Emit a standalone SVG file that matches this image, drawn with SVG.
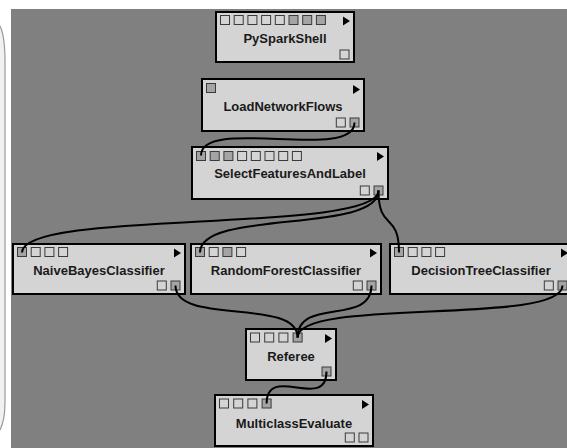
<svg xmlns="http://www.w3.org/2000/svg" width="567" height="448" viewBox="0 0 567 448">
<style>
.box{fill:#d4d4d4;stroke:#000;stroke-width:2}
.p{fill:#d4d4d4;stroke:#3a3a3a;stroke-width:1}
.pd{fill:#a4a4a4;stroke:#3a3a3a;stroke-width:1}
.tri{fill:#000}
.lbl{font-family:"Liberation Sans",Arial,sans-serif;font-weight:bold;font-size:13px;fill:#1a1a1a;text-anchor:middle}
.wire{fill:none;stroke:#000;stroke-width:2}
</style>
<rect x="0" y="0" width="567" height="448" fill="#ffffff"/>
<path d="M0,26 Q5,36 5,62 L5,402 Q5,420 0,430 Z" fill="#f1f1f1" stroke="none"/>
<path d="M0,26 Q5,36 5,62 L5,402 Q5,420 0,430" fill="none" stroke="#9a9a9a" stroke-width="1.2"/>
<rect x="11" y="9" width="556" height="439" fill="#808080"/>

<g id="PySparkShell">
<rect class="box" x="216" y="12" width="138" height="50"/>
<rect class="p" x="220.5" y="15.5" width="9" height="9"/>
<rect class="p" x="234.2" y="15.5" width="9" height="9"/>
<rect class="p" x="247.9" y="15.5" width="9" height="9"/>
<rect class="p" x="261.6" y="15.5" width="9" height="9"/>
<rect class="p" x="275.3" y="15.5" width="9" height="9"/>
<rect class="pd" x="289" y="15.5" width="9" height="9"/>
<rect class="pd" x="302.7" y="15.5" width="9" height="9"/>
<rect class="pd" x="316.4" y="15.5" width="9" height="9"/>
<polygon class="tri" points="343,16.5 343,25.5 350,21"/>
<rect class="p" x="340" y="50" width="9" height="9"/>
<text class="lbl" x="285" y="43">PySparkShell</text>
</g>

<g id="LoadNetworkFlows">
<rect class="box" x="202" y="79" width="162" height="52"/>
<rect class="pd" x="206.5" y="83.5" width="9" height="9"/>
<polygon class="tri" points="353,85 353,94 360,89.5"/>
<rect class="p" x="336.3" y="118" width="9" height="9"/>
<rect class="pd" x="350" y="118" width="9" height="9"/>
<text class="lbl" x="283" y="111">LoadNetworkFlows</text>
</g>

<g id="SelectFeaturesAndLabel">
<rect class="box" x="192" y="147" width="196" height="52"/>
<rect class="pd" x="196.5" y="151.5" width="9" height="9"/>
<rect class="pd" x="210.2" y="151.5" width="9" height="9"/>
<rect class="pd" x="223.9" y="151.5" width="9" height="9"/>
<rect class="p" x="237.6" y="151.5" width="9" height="9"/>
<rect class="p" x="251.3" y="151.5" width="9" height="9"/>
<rect class="p" x="265" y="151.5" width="9" height="9"/>
<rect class="p" x="278.7" y="151.5" width="9" height="9"/>
<rect class="p" x="292.4" y="151.5" width="9" height="9"/>
<polygon class="tri" points="377,152 377,161 384,156.5"/>
<rect class="p" x="360.3" y="186" width="9" height="9"/>
<rect class="pd" x="374" y="186" width="9" height="9"/>
<text class="lbl" x="290" y="178">SelectFeaturesAndLabel</text>
</g>

<g id="NaiveBayesClassifier">
<rect class="box" x="13" y="244" width="172" height="50"/>
<rect class="pd" x="17.5" y="247.5" width="9" height="9"/>
<rect class="p" x="31.2" y="247.5" width="9" height="9"/>
<rect class="p" x="44.9" y="247.5" width="9" height="9"/>
<rect class="p" x="58.6" y="247.5" width="9" height="9"/>
<polygon class="tri" points="174,248.5 174,257.5 181,253"/>
<rect class="p" x="157.3" y="281" width="9" height="9"/>
<rect class="pd" x="171" y="281" width="9" height="9"/>
<text class="lbl" x="99" y="275">NaiveBayesClassifier</text>
</g>

<g id="RandomForestClassifier">
<rect class="box" x="191" y="244" width="190" height="50"/>
<rect class="pd" x="195.5" y="247.5" width="9" height="9"/>
<rect class="p" x="209.2" y="247.5" width="9" height="9"/>
<rect class="pd" x="222.9" y="247.5" width="9" height="9"/>
<rect class="p" x="236.6" y="247.5" width="9" height="9"/>
<polygon class="tri" points="370,248.5 370,257.5 377,253"/>
<rect class="p" x="353.3" y="281" width="9" height="9"/>
<rect class="pd" x="367" y="281" width="9" height="9"/>
<text class="lbl" x="286" y="275">RandomForestClassifier</text>
</g>

<g id="DecisionTreeClassifier">
<rect class="box" x="390" y="244" width="182" height="50"/>
<rect class="pd" x="394.5" y="247.5" width="9" height="9"/>
<rect class="p" x="408.2" y="247.5" width="9" height="9"/>
<rect class="p" x="421.9" y="247.5" width="9" height="9"/>
<rect class="p" x="435.6" y="247.5" width="9" height="9"/>
<polygon class="tri" points="561,248.5 561,257.5 568,253"/>
<rect class="p" x="544.3" y="281" width="9" height="9"/>
<rect class="pd" x="558" y="281" width="9" height="9"/>
<text class="lbl" x="481" y="275">DecisionTreeClassifier</text>
</g>

<g id="Referee">
<rect class="box" x="246" y="329" width="90" height="51"/>
<rect class="p" x="250.5" y="333" width="9" height="9"/>
<rect class="p" x="264.7" y="333" width="9" height="9"/>
<rect class="p" x="278.9" y="333" width="9" height="9"/>
<rect class="pd" x="293.1" y="333" width="9" height="9"/>
<polygon class="tri" points="325,334 325,343 332,338.5"/>
<rect class="pd" x="322" y="367" width="9" height="9"/>
<text class="lbl" x="291" y="360.5">Referee</text>
</g>

<g id="MulticlassEvaluate">
<rect class="box" x="215" y="395" width="158" height="51"/>
<rect class="p" x="219.5" y="399" width="9" height="9"/>
<rect class="p" x="233.7" y="399" width="9" height="9"/>
<rect class="p" x="247.9" y="399" width="9" height="9"/>
<rect class="pd" x="262.1" y="399" width="9" height="9"/>
<polygon class="tri" points="362,400 362,409 369,404.5"/>
<rect class="p" x="345.3" y="433" width="9" height="9"/>
<rect class="p" x="359" y="433" width="9" height="9"/>
<text class="lbl" x="294" y="427.5">MulticlassEvaluate</text>
</g>

<g id="connectors">
<path class="wire" d="M354.5,122.5 C354.5,162 201,116 201,155.5"/>
<path class="wire" d="M378.5,190.5 C378.5,234 22,209 22,252.5"/>
<path class="wire" d="M378.5,190.5 C378.5,234 200,209 200,252.5"/>
<path class="wire" d="M378.5,190.5 C378.5,232 399,211 399,252.5"/>
<path class="wire" d="M175.5,285.5 C175.5,326 297.6,297 297.6,337.5"/>
<path class="wire" d="M371.5,285.5 C371.5,326 297.6,297 297.6,337.5"/>
<path class="wire" d="M562.5,285.5 C562.5,326 297.6,297 297.6,337.5"/>
<path class="wire" d="M326.5,371.5 C326.5,412 266.6,363 266.6,403.5"/>
</g>
</svg>
